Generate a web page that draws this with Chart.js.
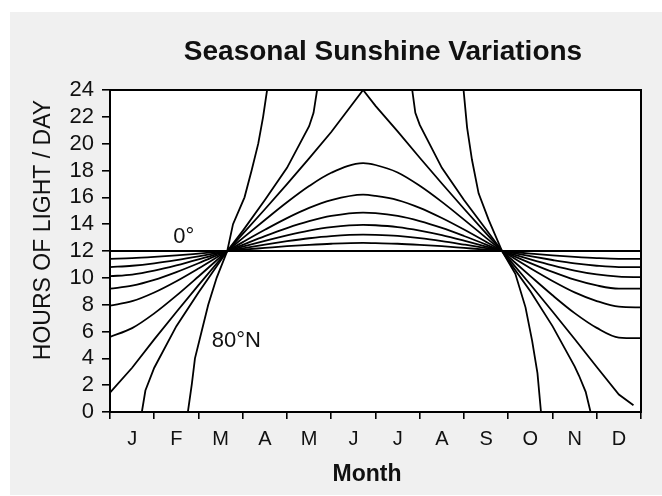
<!DOCTYPE html>
<html>
<head>
<meta charset="utf-8">
<script src="https://cdn.jsdelivr.net/npm/chart.js@4.4.1/dist/chart.umd.min.js"></script>
<style>
  html, body { margin: 0; padding: 0; background: #fff; }
  canvas { display: block; }
</style>
</head>
<body>
<canvas id="chart" width="662" height="496"></canvas>
<script>
// month letters, centred between the month ticks
const monthLetters = ['J', 'F', 'M', 'A', 'M', 'J', 'J', 'A', 'S', 'O', 'N', 'D'];
const hourTicks = [0, 2, 4, 6, 8, 10, 12, 14, 16, 18, 20, 22, 24];

// positions along the year, in months (0 = start of Jan, 12 = end of Dec)
const monthGrid = [0, 0.5, 1, 1.5, 2, 2.65, 3, 3.5, 4, 4.5, 5, 5.72, 6, 6.5, 7, 7.5, 8, 8.5, 8.86, 9, 9.5, 10, 10.5, 11, 11.5, 12];

// hours of daylight, one value per monthGrid entry
const lat0  = [12, 12, 12, 12, 12, 12, 12, 12, 12, 12, 12, 12, 12, 12, 12, 12, 12, 12, 12, 12, 12, 12, 12, 12, 12, 12];
const lat10 = [11.42, 11.47, 11.56, 11.67, 11.81, 12, 12.10, 12.23, 12.36, 12.46, 12.54, 12.6, 12.58, 12.54, 12.46, 12.36, 12.23, 12.10, 12, 11.96, 11.81, 11.67, 11.56, 11.47, 11.42, 11.42];
const lat20 = [10.80, 10.90, 11.08, 11.32, 11.60, 12, 12.20, 12.48, 12.73, 12.95, 13.11, 13.22, 13.20, 13.12, 12.96, 12.74, 12.48, 12.21, 12, 11.91, 11.61, 11.33, 11.08, 10.90, 10.80, 10.80];
const lat30 = [10.12, 10.24, 10.53, 10.92, 11.37, 12, 12.32, 12.76, 13.17, 13.52, 13.78, 13.95, 13.92, 13.78, 13.52, 13.18, 12.77, 12.33, 12, 11.86, 11.38, 10.93, 10.54, 10.25, 10.09, 10.05];
const lat40 = [9.19, 9.42, 9.85, 10.43, 11.09, 12, 12.46, 13.11, 13.71, 14.22, 14.61, 14.86, 14.82, 14.61, 14.23, 13.72, 13.12, 12.48, 12, 11.80, 11.10, 10.44, 9.86, 9.43, 9.19, 9.19];
const lat50 = [7.92, 8.26, 8.91, 9.75, 10.70, 12, 12.66, 13.58, 14.45, 15.21, 15.79, 16.2, 16.11, 15.80, 15.22, 14.46, 13.60, 12.68, 12, 11.72, 10.72, 9.77, 8.92, 8.27, 7.85, 7.8];
const lat60 = [5.6, 6.25, 7.35, 8.67, 10.10, 12, 12.96, 14.31, 15.63, 16.84, 17.83, 18.55, 18.41, 17.85, 16.86, 15.66, 14.34, 12.98, 12, 11.59, 10.13, 8.70, 7.37, 6.27, 5.55, 5.5];

// polar curves, [month, hours] pairs (they run into 0 h and 24 h)
const lat66 = [[0, 1.45], [0.5, 3.3], [1, 5.41], [1.5, 7.45], [2, 9.46], [2.65, 12], [3, 13.27], [3.5, 15.11], [4, 16.99], [4.5, 18.91], [5, 20.87], [5.72, 24], [6, 22.82], [6.5, 20.92], [7, 18.95], [7.5, 17.03], [8, 15.15], [8.5, 13.31], [8.86, 12], [9, 11.45], [9.5, 9.5], [10, 7.49], [10.5, 5.44], [11, 3.35], [11.5, 1.3], [11.83, 0.5]];
const lat70 = [[0, 0], [0.72, 0], [0.8, 1.6], [1, 3.3], [1.5, 6.4], [2, 8.9], [2.65, 12], [3, 13.5], [3.5, 15.8], [4, 18.2], [4.5, 21.3], [4.6, 22.3], [4.68, 24], [6.83, 24], [6.9, 22.3], [7, 21.4], [7.5, 18.2], [8, 15.8], [8.5, 13.6], [8.86, 12], [9, 11.3], [9.5, 9.0], [10, 6.4], [10.5, 3.4], [10.6, 2.7], [10.75, 1.5], [10.86, 0], [12, 0]];
const lat80 = [[0, 0], [1.76, 0], [1.85, 2.1], [1.92, 4], [2.07, 6], [2.22, 8], [2.41, 10], [2.65, 12], [2.78, 14], [3.04, 16], [3.2, 18], [3.35, 20], [3.46, 22], [3.55, 24], [7.99, 24], [8.07, 21.2], [8.18, 18.8], [8.33, 16.3], [8.56, 14.3], [8.86, 12], [9.16, 10.3], [9.39, 7.8], [9.54, 5.3], [9.66, 2.9], [9.74, 0], [12, 0]];

const curveLabels = [
    { text: '0°', month: 1.43, hours: 12.57 },
    { text: '80°N', month: 2.3, hours: 4.84 }
];

const FONT = "'Liberation Sans', Arial, Helvetica, sans-serif";

function onGrid(values) {
    return values.map((h, i) => ({ x: monthGrid[i], y: h }));
}

function fromPairs(pairs) {
    return pairs.map(p => ({ x: p[0], y: p[1] }));
}

function curve(data, smooth) {
    return {
        data: data,
        borderColor: '#000',
        borderWidth: 1.8,
        pointRadius: 0,
        fill: false,
        tension: 0,
        cubicInterpolationMode: smooth ? 'monotone' : 'default'
    };
}

const datasets = [
    curve(onGrid(lat0), true),
    curve(onGrid(lat10), true),
    curve(onGrid(lat20), true),
    curve(onGrid(lat30), true),
    curve(onGrid(lat40), true),
    curve(onGrid(lat50), true),
    curve(onGrid(lat60), true),
    curve(fromPairs(lat66), false),
    curve(fromPairs(lat70), false),
    curve(fromPairs(lat80), false)
];

const sheet = {
    id: 'sheet',
    beforeDraw(chart) {
        const { ctx, chartArea: a } = chart;
        ctx.save();
        ctx.fillStyle = '#fff';
        ctx.fillRect(0, 0, chart.width, chart.height);
        ctx.fillStyle = '#f0f0f0';
        ctx.fillRect(10, 12, chart.width - 10, 483);
        ctx.fillStyle = '#fff';
        ctx.fillRect(a.left, a.top, a.right - a.left, a.bottom - a.top);
        ctx.restore();
    },
    afterDraw(chart) {
        const { ctx, chartArea: a, scales } = chart;
        ctx.save();
        // frame round the plot
        ctx.strokeStyle = '#000';
        ctx.lineWidth = 2;
        ctx.strokeRect(a.left, a.top, a.right - a.left, a.bottom - a.top);

        ctx.fillStyle = '#111';
        ctx.textAlign = 'center';
        ctx.textBaseline = 'alphabetic';
        ctx.font = 'bold 28px ' + FONT;
        ctx.fillText('Seasonal Sunshine Variations', 383, 60);

        ctx.font = 'bold 23px ' + FONT;
        ctx.fillText('Month', 367, 481);

        ctx.save();
        ctx.translate(50, 230);
        ctx.rotate(-Math.PI / 2);
        ctx.font = '23px ' + FONT;
        ctx.fillText('HOURS OF LIGHT / DAY', 0, 0);
        ctx.restore();

        // curve labels
        ctx.textAlign = 'left';
        ctx.font = '22px ' + FONT;
        curveLabels.forEach(l => {
            ctx.fillText(l.text, scales.x.getPixelForValue(l.month), scales.y.getPixelForValue(l.hours));
        });
        ctx.restore();
    }
};

new Chart(document.getElementById('chart'), {
    type: 'line',
    data: { datasets: datasets },
    options: {
        responsive: false,
        devicePixelRatio: 1,
        animation: false,
        layout: { padding: { left: 0, top: 90, right: 21, bottom: 0 } },
        plugins: {
            legend: { display: false },
            tooltip: { enabled: false },
            title: { display: false }
        },
        scales: {
            x: {
                type: 'linear',
                min: 0,
                max: 12,
                afterFit: scale => { scale.height = 84; },
                afterBuildTicks: scale => {
                    const t = [];
                    for (let i = 0; i <= monthLetters.length; i++) {
                        t.push({ value: i });
                        if (i < monthLetters.length) t.push({ value: i + 0.5 });
                    }
                    scale.ticks = t;
                },
                border: { display: false },
                grid: {
                    drawOnChartArea: false,
                    drawTicks: true,
                    tickLength: 7,
                    lineWidth: 1.6,
                    color: ctx => (ctx.tick && ctx.tick.value % 1 === 0) ? '#000' : 'rgba(0,0,0,0)'
                },
                ticks: {
                    autoSkip: false,
                    maxRotation: 0,
                    padding: 8,
                    color: '#111',
                    font: { family: FONT, size: 20 },
                    callback: v => (v % 1 === 0) ? '' : monthLetters[Math.floor(v)]
                }
            },
            y: {
                min: 0,
                max: 24,
                afterFit: scale => { scale.width = 110; },
                afterBuildTicks: scale => {
                    scale.ticks = hourTicks.map(v => ({ value: v }));
                },
                border: { display: false },
                grid: {
                    drawOnChartArea: false,
                    drawTicks: true,
                    tickLength: 8,
                    lineWidth: 1.6,
                    color: '#000'
                },
                ticks: {
                    autoSkip: false,
                    padding: 8,
                    color: '#111',
                    font: { family: FONT, size: 22 }
                }
            }
        }
    },
    plugins: [sheet]
});
</script>
</body>
</html>
